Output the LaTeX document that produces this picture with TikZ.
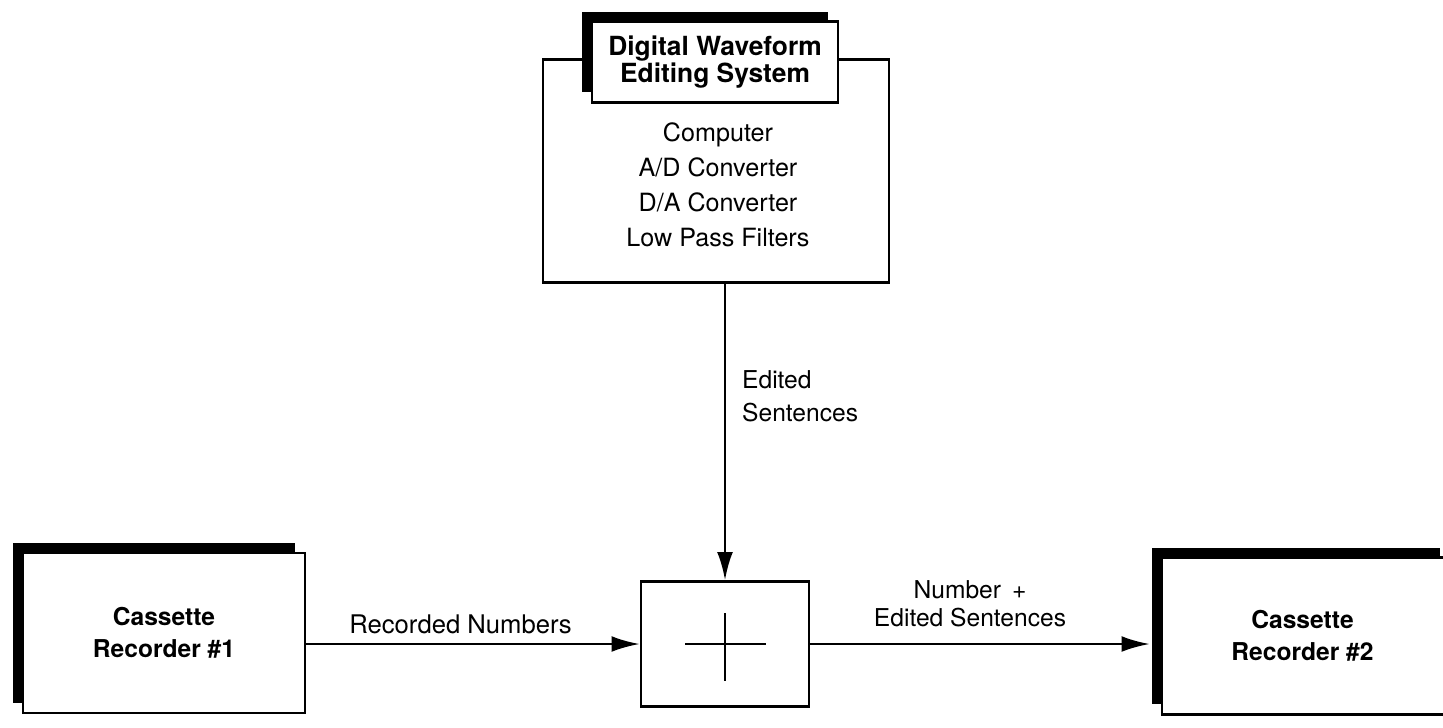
\documentclass[tikz,border=0pt]{standalone}
\usepackage{fontspec}
\setmainfont{TeX Gyre Heros}
\usetikzlibrary{arrows.meta,shadows}

\begin{document}
\begin{tikzpicture}[x=0.02cm, y=-0.02cm, line width=1.5pt,
    txt/.style={font=\fontsize{14}{17}\selectfont},
    shadowbox/.style={draw, fill=white, inner sep=0pt,
        drop shadow={shadow xshift=-0.2cm, shadow yshift=0.2cm, fill=black, opacity=1}},
    flow/.style={-{Latex[length=16pt, width=9pt]}}]
    % page frame
    \useasboundingbox (0,0) rectangle (1443,727);

    % editing system: outer box, title box on its top edge, parts list
    \node[draw, minimum width=6.92cm, minimum height=4.46cm] (system) at (716,171) {};
    \node[shadowbox, minimum width=4.92cm, minimum height=1.62cm, align=center,
          font=\fontsize{15}{15.5}\selectfont\bfseries] (title) at (715,62) {Digital Waveform\\Editing System};
    \node[txt, align=center, font=\fontsize{14.3}{20}\selectfont] (parts) at (718,185)
        {Computer\\A/D Converter\\D/A Converter\\Low Pass Filters};

    % the two recorders and the summing box
    \node[shadowbox, minimum width=5.64cm, minimum height=3.2cm, align=center,
          font=\fontsize{14}{18}\selectfont\bfseries] (rec1) at (164,633) {Cassette\\Recorder \#1};
    \node[shadowbox, minimum width=5.76cm, minimum height=3.14cm, align=center,
          font=\fontsize{14}{18}\selectfont\bfseries] (rec2) at (1306,636) {\hspace*{-0.14cm}Cassette\\\hspace*{-0.14cm}Recorder \#2};
    \node[draw, minimum width=3.36cm, minimum height=2.5cm] (sum) at (725,644) {};
    \draw ([xshift=-0.8cm]sum.center) -- ([xshift=0.82cm]sum.center);
    \draw ([yshift=0.62cm]sum.center) -- ([yshift=-0.74cm]sum.center);

    % signal flow
    \draw[flow] (system.south -| sum.north) -- (sum.north)
        node[txt, pos=0.38, right=0.2cm, align=left, font=\fontsize{14}{19}\selectfont] (edited) {Edited\\Sentences};
    \draw[flow] (rec1.east |- sum.west) -- (sum.west)
        node[txt, midway, above=0.05cm, xshift=-0.25cm, font=\fontsize{14.6}{17}\selectfont] (recnum) {Recorded Numbers};
    \draw[flow] (sum.east) -- ([xshift=-0.22cm]sum.east -| rec2.west)
        node[txt, midway, above=0.2cm, xshift=-0.2cm, align=center, font=\fontsize{14}{16}\selectfont] (mixed) {Number \,+\\Edited Sentences};
\end{tikzpicture}
\end{document}
